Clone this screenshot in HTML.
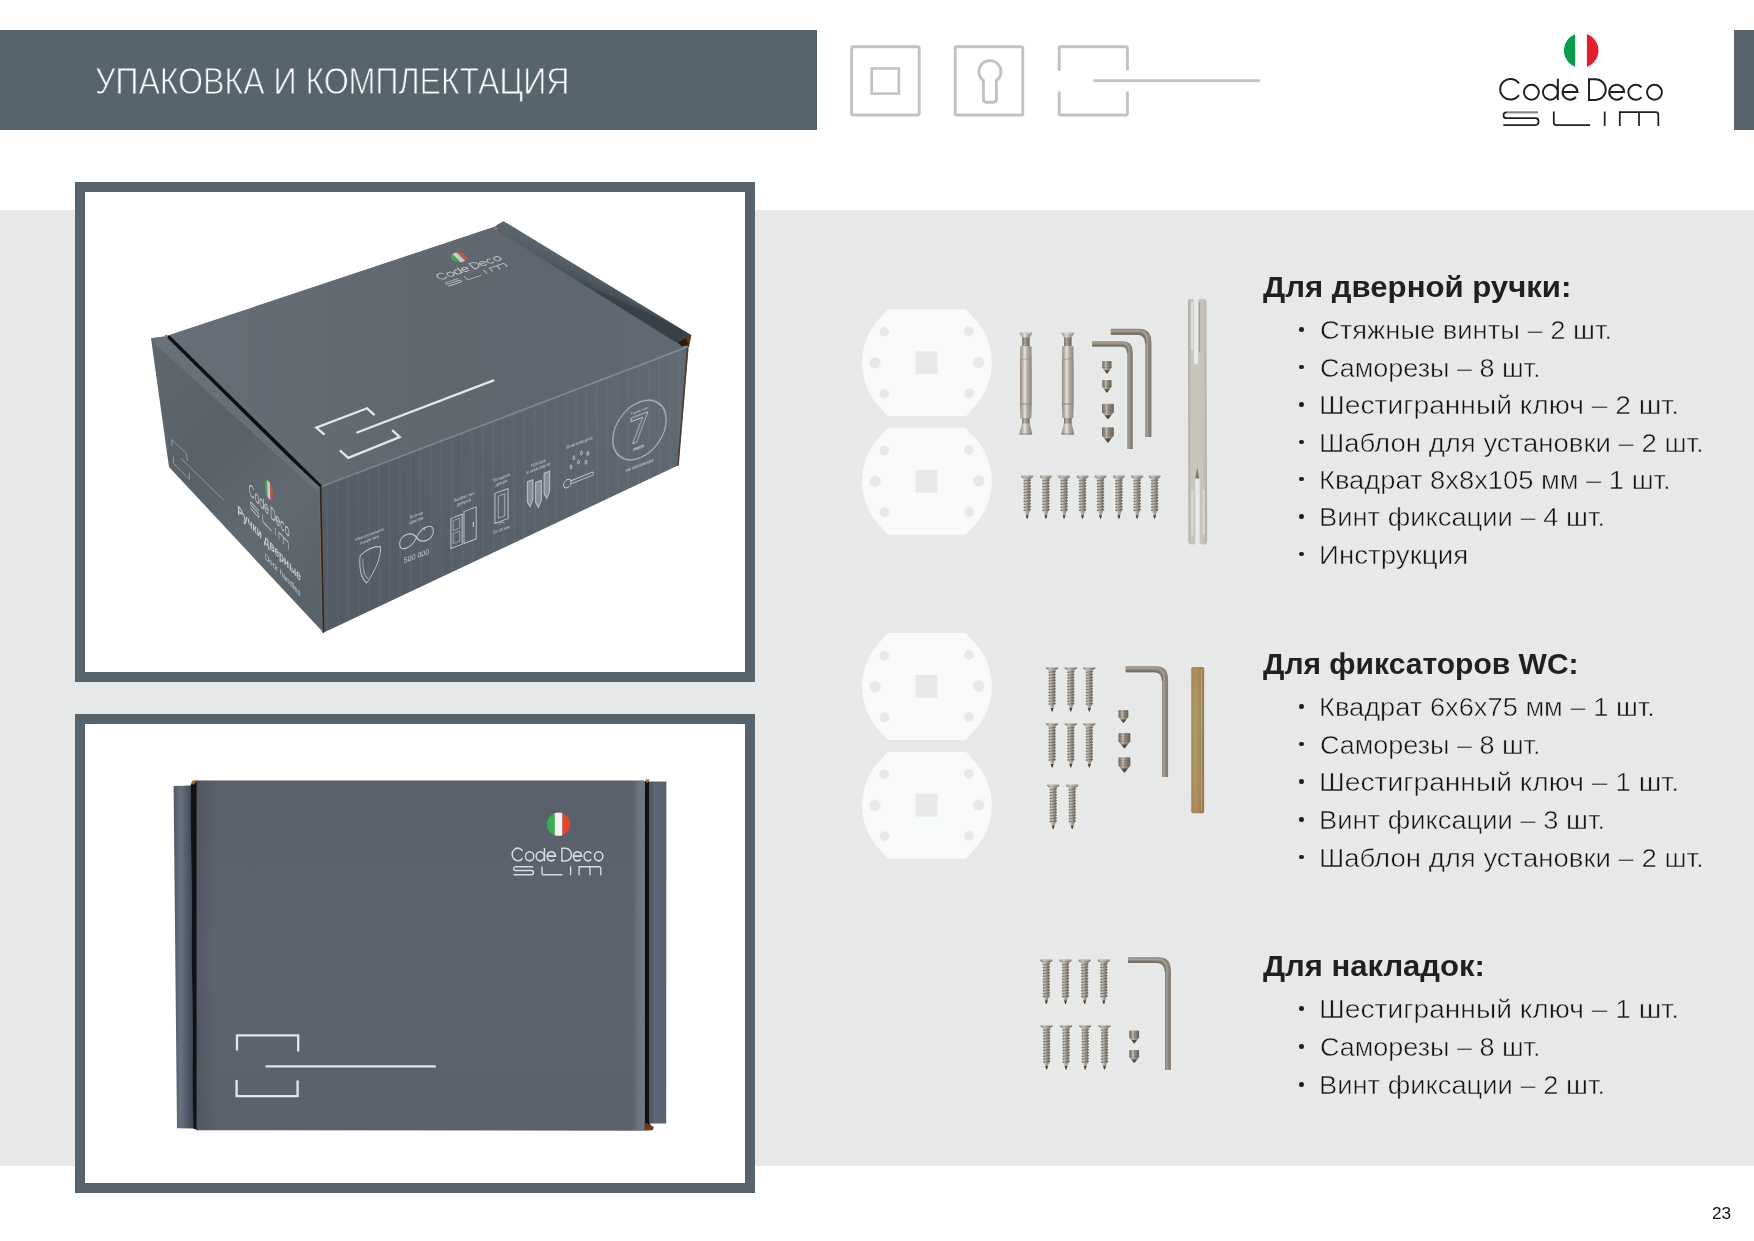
<!DOCTYPE html>
<html lang="ru">
<head>
<meta charset="utf-8">
<title>Упаковка и комплектация</title>
<style>
html,body{margin:0;padding:0;background:#fff;}
body{width:1754px;height:1241px;position:relative;overflow:hidden;font-family:"Liberation Sans",sans-serif;}
.abs{position:absolute;}
#band{left:0;top:210.3px;width:1754px;height:955.3px;background:#e7e9e8;}
#hdr{left:0;top:29.5px;width:817px;height:100px;background:#56646e;}
#rbar{left:1734px;top:29.5px;width:20px;height:100px;background:#56646e;}
#title{left:94.70px;top:59.50px;color:#fff;font-size:36.3px;line-height:44px;white-space:nowrap;transform-origin:0 50%;transform:scaleX(0.8835);-webkit-text-stroke:0.9px #56646e;will-change:transform;}
.frame{box-sizing:border-box;border:10.3px solid #56646e;background:#fff;}
#f1{left:75.2px;top:181.5px;width:679.8px;height:500.1px;}
#f2{left:75.2px;top:713.8px;width:679.8px;height:479.5px;}
.h{font-weight:bold;font-size:30.0px;line-height:36px;color:#231f20;white-space:nowrap;transform-origin:0 50%;will-change:transform;}
.li{font-size:25.9px;line-height:34px;color:#151213;white-space:nowrap;transform-origin:0 50%;-webkit-text-stroke:0.5px #e7e9e8;margin-top:0.5px;will-change:transform;}
.b{width:4.6px;height:4.6px;border-radius:50%;background:#231f20;left:1299.3px;margin-top:-3.3px;}
#pn{left:1711.70px;top:1202.04px;font-size:17.2px;line-height:22px;color:#111;white-space:nowrap;transform-origin:0 50%;transform:scaleX(0.9968);will-change:transform;}
svg{position:absolute;left:0;top:0;}
</style>
</head>
<body>
<div id="band" class="abs"></div>
<div id="hdr" class="abs"></div>
<div id="rbar" class="abs"></div>
<div id="title" class="abs">УПАКОВКА И КОМПЛЕКТАЦИЯ</div>
<div id="f1" class="abs frame"></div>
<div id="f2" class="abs frame"></div>

<!-- GRAPHICS -->
<svg id="gfx" width="1754" height="1241" viewBox="0 0 1754 1241">
<defs>
<g id="cdtxt" fill="none">
<path d="M1518.94,83.34 A10.3 10.3 0 1 0 1518.94,95.16"/>
<circle cx="1531.4" cy="92.25" r="7.45"/>
<circle cx="1550.4" cy="92.25" r="7.45"/><path d="M1557.85,78.7 V100.1"/>
<path d="M1562.60,91.95 H1577.50 A7.45 7.45 0 1 0 1575.92,96.84"/>
<path d="M1589,79.2 H1595.4 A10.35 10.35 0 0 1 1595.4,99.9 H1589 Z"/>
<path d="M1609.25,91.95 H1624.15 A7.45 7.45 0 1 0 1622.57,96.84"/>
<path d="M1641.51,87.46 A7.45 7.45 0 1 0 1641.51,97.04"/>
<circle cx="1654.5" cy="92.25" r="7.45"/>
</g>
<g id="slimtxt" fill="none">
<path d="M1538,112.3 H1506.5 Q1503.5,112.3 1503.5,115.2 Q1503.5,118.2 1506.5,118.2 H1535.3 Q1538.6,118.2 1538.6,121.6 Q1538.6,125.1 1535.3,125.1 H1503.3"/>
<path d="M1553.8,111.6 V122.6 Q1553.8,125.1 1556.3,125.1 H1590"/>
<path d="M1604.7,111.6 V125.9"/>
<path d="M1619.8,125.9 V112.2 H1655.8 Q1658.3,112.2 1658.3,114.7 V125.9 M1639,112.2 V125.9"/>
</g>
<linearGradient id="b2main" x1="0" y1="0" x2="0" y2="1">
<stop offset="0" stop-color="#59606b"/><stop offset="0.5" stop-color="#5d6470"/><stop offset="1" stop-color="#5a616c"/>
</linearGradient>
<linearGradient id="b2mainx" x1="0" y1="0" x2="1" y2="0">
<stop offset="0" stop-color="#000" stop-opacity="0.10"/><stop offset="0.04" stop-color="#000" stop-opacity="0"/><stop offset="0.975" stop-color="#fff" stop-opacity="0"/><stop offset="1" stop-color="#9fb0c8" stop-opacity="0.28"/>
</linearGradient>
<linearGradient id="b2flapL" x1="0" y1="0" x2="1" y2="0">
<stop offset="0" stop-color="#4f5864"/><stop offset="0.35" stop-color="#68727f"/><stop offset="0.6" stop-color="#566070"/><stop offset="1" stop-color="#3c434e"/>
</linearGradient>
<linearGradient id="b2flapR" x1="0" y1="0" x2="1" y2="0">
<stop offset="0" stop-color="#4b5360"/><stop offset="0.3" stop-color="#5d6674"/><stop offset="1" stop-color="#59616f"/>
</linearGradient>
<clipPath id="flag2c"><circle cx="558.5" cy="824.2" r="11.6"/></clipPath>
<!--B1DEFS-->
<linearGradient id="b1top" gradientUnits="userSpaceOnUse" x1="170" y1="340" x2="690" y2="340">
<stop offset="0" stop-color="#676e77"/><stop offset="0.45" stop-color="#61686f"/><stop offset="0.75" stop-color="#5f666f"/><stop offset="1" stop-color="#626a74"/>
</linearGradient>
<linearGradient id="b1front" gradientUnits="userSpaceOnUse" x1="320" y1="560" x2="690" y2="400">
<stop offset="0" stop-color="#535b65"/><stop offset="0.5" stop-color="#59616b"/><stop offset="1" stop-color="#616973"/>
</linearGradient>
<linearGradient id="b1left" gradientUnits="userSpaceOnUse" x1="150" y1="400" x2="330" y2="560">
<stop offset="0" stop-color="#5d656d"/><stop offset="0.35" stop-color="#586068"/><stop offset="0.7" stop-color="#626a72"/><stop offset="1" stop-color="#5a626a"/>
</linearGradient>
<linearGradient id="b1flap" gradientUnits="userSpaceOnUse" x1="600" y1="272" x2="592" y2="290">
<stop offset="0" stop-color="#5a646d"/><stop offset="0.5" stop-color="#505a63"/><stop offset="0.8" stop-color="#475159"/><stop offset="1" stop-color="#384148"/>
</linearGradient>
<clipPath id="b1frontc"><path d="M320,486.3 L686.5,346.8 L688.3,347.7 L678.4,465.3 L323.3,632.7 Z"/></clipPath>
<!--/B1DEFS-->
<!--HWDEFS-->
<linearGradient id="mtl" x1="0" y1="0" x2="1" y2="0">
<stop offset="0" stop-color="#6f685f"/><stop offset="0.3" stop-color="#c6c0b6"/><stop offset="0.55" stop-color="#a19a90"/><stop offset="1" stop-color="#6c655c"/>
</linearGradient>
<linearGradient id="mtlb" x1="0" y1="0" x2="1" y2="0">
<stop offset="0" stop-color="#8f887e"/><stop offset="0.22" stop-color="#b9b3a9"/><stop offset="0.42" stop-color="#e6e3dd"/><stop offset="0.6" stop-color="#b5afa5"/><stop offset="1" stop-color="#8c857b"/>
</linearGradient>
<linearGradient id="mtld" x1="0" y1="0" x2="1" y2="0">
<stop offset="0" stop-color="#776f66"/><stop offset="0.35" stop-color="#bbb5ab"/><stop offset="0.6" stop-color="#989187"/><stop offset="1" stop-color="#6b645b"/>
</linearGradient>
<linearGradient id="spn" x1="0" y1="0" x2="1" y2="0">
<stop offset="0" stop-color="#aeaaa1"/><stop offset="0.18" stop-color="#c9c6be"/><stop offset="0.8" stop-color="#c6c3bb"/><stop offset="1" stop-color="#b3afa6"/>
</linearGradient>
<linearGradient id="brs" x1="0" y1="0" x2="1" y2="0">
<stop offset="0" stop-color="#9c8456"/><stop offset="0.3" stop-color="#b09a66"/><stop offset="0.62" stop-color="#a18a59"/><stop offset="1" stop-color="#8c754a"/>
</linearGradient>
<linearGradient id="brsy" x1="0" y1="0" x2="0" y2="1">
<stop offset="0" stop-color="#b07a4a" stop-opacity="0.35"/><stop offset="0.3" stop-color="#a8a060" stop-opacity="0.25"/><stop offset="0.55" stop-color="#b8a070" stop-opacity="0.0"/><stop offset="1" stop-color="#a8703c" stop-opacity="0.3"/>
</linearGradient>
<path id="plate" d="M-39.0,-53.5 H39.0 L44.61,-47.0 A64.8 64.8 0 0 1 44.61,47.0 L39.0,53.5 H-39.0 L-44.61,47.0 A64.8 64.8 0 0 1 -44.61,-47.0 Z"/>
<g id="pholes" fill="#e7e9e8"><circle cx="-42.6" cy="-30.8" r="4.9"/><circle cx="42" cy="-31.4" r="4.9"/><circle cx="-51.8" cy="0.2" r="5.7"/><circle cx="51.7" cy="-0.3" r="5.7"/><circle cx="-42.4" cy="31" r="4.9"/><circle cx="42.2" cy="30.6" r="4.9"/><rect x="-11.4" y="-11.4" width="22.2" height="22.8"/></g>
<g id="ws"><path d="M-2.50,3.30 L2.50,3.30 L2.50,3.30 L4.00,4.63 L2.50,6.25 L2.50,6.25 L4.00,7.58 L2.50,9.20 L2.50,9.20 L4.00,10.53 L2.50,12.15 L2.50,12.15 L4.00,13.48 L2.50,15.10 L2.50,15.10 L4.00,16.43 L2.50,18.05 L2.50,18.05 L4.00,19.38 L2.50,21.00 L2.50,21.00 L4.00,22.33 L2.50,23.95 L2.50,23.95 L4.00,25.28 L2.50,26.90 L2.50,26.90 L4.00,28.23 L2.50,29.85 L2.50,29.85 L4.00,31.18 L2.50,32.80 L2.50,32.80 L4.00,34.13 L2.50,35.75 L2.25,35.75 L0.35,43.30 L-0.35,43.30 L-2.25,35.75 L-2.50,35.75 L-4.00,34.72 L-2.50,33.39 L-2.50,32.80 L-4.00,31.77 L-2.50,30.44 L-2.50,29.85 L-4.00,28.82 L-2.50,27.49 L-2.50,26.90 L-4.00,25.87 L-2.50,24.54 L-2.50,23.95 L-4.00,22.92 L-2.50,21.59 L-2.50,21.00 L-4.00,19.97 L-2.50,18.64 L-2.50,18.05 L-4.00,17.02 L-2.50,15.69 L-2.50,15.10 L-4.00,14.07 L-2.50,12.74 L-2.50,12.15 L-4.00,11.12 L-2.50,9.79 L-2.50,9.20 L-4.00,8.17 L-2.50,6.84 L-2.50,6.25 L-4.00,5.22 L-2.50,3.89 Z" fill="url(#mtl)"/><path d="M-3.40,5.51 L3.50,4.33" stroke="#5f5850" stroke-opacity="0.7" stroke-width="0.8" fill="none"/><path d="M-3.40,8.46 L3.50,7.28" stroke="#5f5850" stroke-opacity="0.7" stroke-width="0.8" fill="none"/><path d="M-3.40,11.41 L3.50,10.23" stroke="#5f5850" stroke-opacity="0.7" stroke-width="0.8" fill="none"/><path d="M-3.40,14.36 L3.50,13.18" stroke="#5f5850" stroke-opacity="0.7" stroke-width="0.8" fill="none"/><path d="M-3.40,17.31 L3.50,16.13" stroke="#5f5850" stroke-opacity="0.7" stroke-width="0.8" fill="none"/><path d="M-3.40,20.26 L3.50,19.08" stroke="#5f5850" stroke-opacity="0.7" stroke-width="0.8" fill="none"/><path d="M-3.40,23.21 L3.50,22.03" stroke="#5f5850" stroke-opacity="0.7" stroke-width="0.8" fill="none"/><path d="M-3.40,26.16 L3.50,24.98" stroke="#5f5850" stroke-opacity="0.7" stroke-width="0.8" fill="none"/><path d="M-3.40,29.11 L3.50,27.93" stroke="#5f5850" stroke-opacity="0.7" stroke-width="0.8" fill="none"/><path d="M-3.40,32.06 L3.50,30.88" stroke="#5f5850" stroke-opacity="0.7" stroke-width="0.8" fill="none"/><path d="M-3.40,35.01 L3.50,33.83" stroke="#5f5850" stroke-opacity="0.7" stroke-width="0.8" fill="none"/><path d="M-1.50,39.70 L1.50,39.70 L0.3,43.3 L-0.3,43.3 Z" fill="#4a453f"/><path d="M-6.0,0.9 Q-6.0,0 -4.8,0 H4.8 Q6.0,0 6.0,0.9 L5.7,1.6 L2.7,3.5999999999999996 H-2.7 L-5.7,1.6 Z" fill="url(#mtl)"/><path d="M-5.2,0.5 H5.2" stroke="#cfcac1" stroke-width="0.9" fill="none"/><path d="M-5.5,1.7 L-2.5,3.3 M5.5,1.7 L2.5,3.3" stroke="#6f685f" stroke-opacity="0.6" stroke-width="0.6" fill="none"/></g>
<g id="ws2"><path d="M-2.50,3.30 L2.50,3.30 L2.50,3.30 L3.90,4.60 L2.50,6.20 L2.50,6.20 L3.90,7.50 L2.50,9.10 L2.50,9.10 L3.90,10.40 L2.50,12.00 L2.50,12.00 L3.90,13.30 L2.50,14.90 L2.50,14.90 L3.90,16.21 L2.50,17.80 L2.50,17.80 L3.90,19.11 L2.50,20.70 L2.50,20.70 L3.90,22.00 L2.50,23.60 L2.50,23.60 L3.90,24.90 L2.50,26.50 L2.50,26.50 L3.90,27.80 L2.50,29.40 L2.50,29.40 L3.90,30.70 L2.50,32.30 L2.50,32.30 L3.90,33.60 L2.50,35.20 L2.50,35.20 L3.90,36.50 L2.50,38.10 L2.25,38.10 L0.35,44.60 L-0.35,44.60 L-2.25,38.10 L-2.50,38.10 L-3.90,37.08 L-2.50,35.78 L-2.50,35.20 L-3.90,34.18 L-2.50,32.88 L-2.50,32.30 L-3.90,31.28 L-2.50,29.98 L-2.50,29.40 L-3.90,28.38 L-2.50,27.08 L-2.50,26.50 L-3.90,25.48 L-2.50,24.18 L-2.50,23.60 L-3.90,22.59 L-2.50,21.28 L-2.50,20.70 L-3.90,19.69 L-2.50,18.38 L-2.50,17.80 L-3.90,16.79 L-2.50,15.48 L-2.50,14.90 L-3.90,13.88 L-2.50,12.58 L-2.50,12.00 L-3.90,10.98 L-2.50,9.68 L-2.50,9.10 L-3.90,8.08 L-2.50,6.78 L-2.50,6.20 L-3.90,5.18 L-2.50,3.88 Z" fill="url(#mtl)"/><path d="M-3.30,5.47 L3.40,4.31" stroke="#5f5850" stroke-opacity="0.7" stroke-width="0.8" fill="none"/><path d="M-3.30,8.38 L3.40,7.21" stroke="#5f5850" stroke-opacity="0.7" stroke-width="0.8" fill="none"/><path d="M-3.30,11.27 L3.40,10.12" stroke="#5f5850" stroke-opacity="0.7" stroke-width="0.8" fill="none"/><path d="M-3.30,14.18 L3.40,13.02" stroke="#5f5850" stroke-opacity="0.7" stroke-width="0.8" fill="none"/><path d="M-3.30,17.07 L3.40,15.92" stroke="#5f5850" stroke-opacity="0.7" stroke-width="0.8" fill="none"/><path d="M-3.30,19.98 L3.40,18.82" stroke="#5f5850" stroke-opacity="0.7" stroke-width="0.8" fill="none"/><path d="M-3.30,22.88 L3.40,21.71" stroke="#5f5850" stroke-opacity="0.7" stroke-width="0.8" fill="none"/><path d="M-3.30,25.77 L3.40,24.61" stroke="#5f5850" stroke-opacity="0.7" stroke-width="0.8" fill="none"/><path d="M-3.30,28.67 L3.40,27.51" stroke="#5f5850" stroke-opacity="0.7" stroke-width="0.8" fill="none"/><path d="M-3.30,31.57 L3.40,30.41" stroke="#5f5850" stroke-opacity="0.7" stroke-width="0.8" fill="none"/><path d="M-3.30,34.47 L3.40,33.31" stroke="#5f5850" stroke-opacity="0.7" stroke-width="0.8" fill="none"/><path d="M-3.30,37.37 L3.40,36.21" stroke="#5f5850" stroke-opacity="0.7" stroke-width="0.8" fill="none"/><path d="M-1.50,41.00 L1.50,41.00 L0.3,44.6 L-0.3,44.6 Z" fill="#4a453f"/><path d="M-6.15,0.9 Q-6.15,0 -4.95,0 H4.95 Q6.15,0 6.15,0.9 L5.8500000000000005,1.6 L2.7,3.5999999999999996 H-2.7 L-5.8500000000000005,1.6 Z" fill="url(#mtl)"/><path d="M-5.3500000000000005,0.5 H5.3500000000000005" stroke="#cfcac1" stroke-width="0.9" fill="none"/><path d="M-5.65,1.7 L-2.5,3.3 M5.65,1.7 L2.5,3.3" stroke="#6f685f" stroke-opacity="0.6" stroke-width="0.6" fill="none"/></g>
<g id="ss"><path d="M-3.8,0 H3.8 Q4.6,0 4.6,0.8 V6.6 L0.5,12.6 H-0.5 L-4.6,6.6 V0.8 Q-4.6,0 -3.8,0 Z" fill="url(#mtld)"/><path d="M-4.6,1.60 H4.6" stroke="#5e5850" stroke-opacity="0.55" stroke-width="0.7"/><path d="M-4.6,3.30 H4.6" stroke="#5e5850" stroke-opacity="0.55" stroke-width="0.7"/><path d="M-4.6,5.00 H4.6" stroke="#5e5850" stroke-opacity="0.55" stroke-width="0.7"/><path d="M-4.6,6.70 H4.6" stroke="#5e5850" stroke-opacity="0.55" stroke-width="0.7"/><path d="M-2.53,9.30 L2.53,9.30 L0.4,12.6 H-0.4 Z" fill="#3f3a35" fill-opacity="0.85"/><path d="M-1.15,0.6 V6.6" stroke="#d5d0c7" stroke-opacity="0.7" stroke-width="1.1"/></g>
<g id="ssb"><path d="M-5.1000000000000005,0 H5.1000000000000005 Q5.9,0 5.9,0.8 V8.2 L0.5,15.2 H-0.5 L-5.9,8.2 V0.8 Q-5.9,0 -5.1000000000000005,0 Z" fill="url(#mtld)"/><path d="M-5.9,1.60 H5.9" stroke="#5e5850" stroke-opacity="0.55" stroke-width="0.7"/><path d="M-5.9,3.30 H5.9" stroke="#5e5850" stroke-opacity="0.55" stroke-width="0.7"/><path d="M-5.9,5.00 H5.9" stroke="#5e5850" stroke-opacity="0.55" stroke-width="0.7"/><path d="M-5.9,6.70 H5.9" stroke="#5e5850" stroke-opacity="0.55" stroke-width="0.7"/><path d="M-5.9,8.40 H5.9" stroke="#5e5850" stroke-opacity="0.55" stroke-width="0.7"/><path d="M-3.25,11.35 L3.25,11.35 L0.4,15.2 H-0.4 Z" fill="#3f3a35" fill-opacity="0.85"/><path d="M-1.48,0.6 V8.2" stroke="#d5d0c7" stroke-opacity="0.7" stroke-width="1.1"/></g>
<g id="ssc"><path d="M-4.1000000000000005,0 H4.1000000000000005 Q4.9,0 4.9,0.8 V7.0 L0.5,12.8 H-0.5 L-4.9,7.0 V0.8 Q-4.9,0 -4.1000000000000005,0 Z" fill="url(#mtld)"/><path d="M-4.9,1.60 H4.9" stroke="#5e5850" stroke-opacity="0.55" stroke-width="0.7"/><path d="M-4.9,3.30 H4.9" stroke="#5e5850" stroke-opacity="0.55" stroke-width="0.7"/><path d="M-4.9,5.00 H4.9" stroke="#5e5850" stroke-opacity="0.55" stroke-width="0.7"/><path d="M-4.9,6.70 H4.9" stroke="#5e5850" stroke-opacity="0.55" stroke-width="0.7"/><path d="M-2.70,9.61 L2.70,9.61 L0.4,12.8 H-0.4 Z" fill="#3f3a35" fill-opacity="0.85"/><path d="M-1.23,0.6 V7.0" stroke="#d5d0c7" stroke-opacity="0.7" stroke-width="1.1"/></g>
<g id="tb"><path d="M-6.4,0.7 Q-6.4,0 -5.4,0 H5.4 Q6.4,0 6.4,0.7 L4,4.9 H-4 Z" fill="url(#mtlb)"/><path d="M-5.6,0.5 H5.6" stroke="#d9d5cd" stroke-width="0.9"/><rect x="-3.7" y="4.7" width="7.4" height="9.2" fill="url(#mtld)"/><path d="M-3.7,5.8 H3.7" stroke="#5e5850" stroke-opacity="0.5" stroke-width="0.6"/><path d="M-3.7,7.5 H3.7" stroke="#5e5850" stroke-opacity="0.5" stroke-width="0.6"/><path d="M-3.7,9.2 H3.7" stroke="#5e5850" stroke-opacity="0.5" stroke-width="0.6"/><path d="M-3.7,10.9 H3.7" stroke="#5e5850" stroke-opacity="0.5" stroke-width="0.6"/><path d="M-3.7,12.6 H3.7" stroke="#5e5850" stroke-opacity="0.5" stroke-width="0.6"/><path d="M-5,13.6 H5 Q5.6,13.6 5.6,14.4 L5.9,40 L5.9,70 L5.4,85.6 H-5.4 L-5.9,70 L-5.9,40 L-5.6,14.4 Q-5.6,13.6 -5,13.6 Z" fill="url(#mtlb)"/><path d="M-5.6,27.4 L5.7,25.6" stroke="#8a847a" stroke-opacity="0.7" stroke-width="0.7" fill="none"/><path d="M-5.6,71.4 H5.6" stroke="#7f8896" stroke-opacity="0.8" stroke-width="1.2" fill="none"/><rect x="-3.8" y="85.4" width="7.6" height="6" fill="url(#mtld)"/><path d="M-3.9,91 H3.9 L6.3,100.6 Q6.4,102.2 5,102.2 H-5 Q-6.4,102.2 -6.3,100.6 Z" fill="url(#mtlb)"/><path d="M-5.8,101.4 H5.8" stroke="#7a736a" stroke-opacity="0.7" stroke-width="1"/></g>
<!--/HWDEFS-->
</defs>
<g fill="none" stroke="#bec3c7" stroke-width="2.9">
<rect x="851.6" y="46.8" width="67.6" height="68.2" rx="1.5"/>
<rect x="871.7" y="68.5" width="27.1" height="25.1" stroke-width="2.6"/>
<rect x="955.2" y="46.8" width="67.6" height="68.2" rx="1.5"/>
<path d="M983.4,80.5 A11 11 0 1 1 996.4,80.5 L996.4,99.3 Q996.4,102.2 993.6,102.2 L986.2,102.2 Q983.4,102.2 983.4,99.3 Z"/>
<path d="M1059.2,71.1 V48.3 Q1059.2,46.8 1060.7,46.8 H1125.9 Q1127.4,46.8 1127.4,48.3 V70.6"/>
<path d="M1059.2,91.5 V113.5 Q1059.2,115 1060.7,115 H1125.9 Q1127.4,115 1127.4,113.5 V91.5"/>
<path d="M1093.3,80.6 H1260"/>
</g>
<use href="#cdtxt" stroke="#231f20" stroke-width="1.95"/>
<use href="#slimtxt" stroke="#231f20" stroke-width="1.75"/>
<path d="M1538,112.3 H1506.5" stroke="#fff" stroke-opacity="0.45" stroke-width="1.7" fill="none"/>
<clipPath id="flagc"><circle cx="1581.2" cy="50.5" r="17.3"/></clipPath>
<g clip-path="url(#flagc)"><rect x="1563" y="33" width="12.2" height="36" fill="#0a9c4b"/><rect x="1586.9" y="33" width="13" height="36" fill="#e21f2f"/></g>

<!--BOX1-->
<g id="box1">
<path d="M167.7,335.6 L496.5,226 L678.5,343.6 L686.5,346.8 L320,486.6 Z" fill="url(#b1top)"/>
<path d="M496.3,225.2 L503.6,221.2 L691.2,335.1 L688.4,347 L677.7,343.6 L496,229.8 Z" fill="url(#b1flap)"/>
<path d="M691.4,334.6 L689,347.2 L685.5,345.5 L678.5,343.2 L684,338.2 Z" fill="#5a3a22"/>
<path d="M678,342.2 L686,338.5 L688,344.5 L681.5,346.6 Z" fill="#2a1a10"/>
<path d="M494.4,228.6 L497,226.6 L498,229 L495.6,230.6 Z" fill="#a87a4a"/>
<path d="M320,486.3 L686.5,346.8 L688.3,347.7 L678.4,465.3 L323.3,632.7 Z" fill="url(#b1front)"/>
<g clip-path="url(#b1frontc)"><path d="M326,300 L328,700" stroke="#fff" stroke-opacity="0.03" stroke-width="2.4"/><path d="M336.4,300 L338.4,700" stroke="#fff" stroke-opacity="0.03" stroke-width="2.4"/><path d="M346.79999999999995,300 L348.79999999999995,700" stroke="#fff" stroke-opacity="0.03" stroke-width="2.4"/><path d="M357.19999999999993,300 L359.19999999999993,700" stroke="#fff" stroke-opacity="0.03" stroke-width="2.4"/><path d="M367.5999999999999,300 L369.5999999999999,700" stroke="#fff" stroke-opacity="0.03" stroke-width="2.4"/><path d="M377.9999999999999,300 L379.9999999999999,700" stroke="#fff" stroke-opacity="0.03" stroke-width="2.4"/><path d="M388.39999999999986,300 L390.39999999999986,700" stroke="#fff" stroke-opacity="0.03" stroke-width="2.4"/><path d="M398.79999999999984,300 L400.79999999999984,700" stroke="#fff" stroke-opacity="0.03" stroke-width="2.4"/><path d="M409.1999999999998,300 L411.1999999999998,700" stroke="#fff" stroke-opacity="0.03" stroke-width="2.4"/><path d="M419.5999999999998,300 L421.5999999999998,700" stroke="#fff" stroke-opacity="0.03" stroke-width="2.4"/><path d="M429.9999999999998,300 L431.9999999999998,700" stroke="#fff" stroke-opacity="0.03" stroke-width="2.4"/><path d="M440.39999999999975,300 L442.39999999999975,700" stroke="#fff" stroke-opacity="0.03" stroke-width="2.4"/><path d="M450.7999999999997,300 L452.7999999999997,700" stroke="#fff" stroke-opacity="0.03" stroke-width="2.4"/><path d="M461.1999999999997,300 L463.1999999999997,700" stroke="#fff" stroke-opacity="0.03" stroke-width="2.4"/><path d="M471.5999999999997,300 L473.5999999999997,700" stroke="#fff" stroke-opacity="0.03" stroke-width="2.4"/><path d="M481.99999999999966,300 L483.99999999999966,700" stroke="#fff" stroke-opacity="0.03" stroke-width="2.4"/><path d="M492.39999999999964,300 L494.39999999999964,700" stroke="#fff" stroke-opacity="0.03" stroke-width="2.4"/><path d="M502.7999999999996,300 L504.7999999999996,700" stroke="#fff" stroke-opacity="0.03" stroke-width="2.4"/><path d="M513.1999999999996,300 L515.1999999999996,700" stroke="#fff" stroke-opacity="0.03" stroke-width="2.4"/><path d="M523.5999999999997,300 L525.5999999999997,700" stroke="#fff" stroke-opacity="0.03" stroke-width="2.4"/><path d="M533.9999999999998,300 L535.9999999999998,700" stroke="#fff" stroke-opacity="0.03" stroke-width="2.4"/><path d="M544.3999999999999,300 L546.3999999999999,700" stroke="#fff" stroke-opacity="0.03" stroke-width="2.4"/><path d="M554.8,300 L556.8,700" stroke="#fff" stroke-opacity="0.03" stroke-width="2.4"/><path d="M565.2,300 L567.2,700" stroke="#fff" stroke-opacity="0.03" stroke-width="2.4"/><path d="M575.6000000000001,300 L577.6000000000001,700" stroke="#fff" stroke-opacity="0.03" stroke-width="2.4"/><path d="M586.0000000000002,300 L588.0000000000002,700" stroke="#fff" stroke-opacity="0.03" stroke-width="2.4"/><path d="M596.4000000000003,300 L598.4000000000003,700" stroke="#fff" stroke-opacity="0.03" stroke-width="2.4"/><path d="M606.8000000000004,300 L608.8000000000004,700" stroke="#fff" stroke-opacity="0.03" stroke-width="2.4"/><path d="M617.2000000000005,300 L619.2000000000005,700" stroke="#fff" stroke-opacity="0.03" stroke-width="2.4"/><path d="M627.6000000000006,300 L629.6000000000006,700" stroke="#fff" stroke-opacity="0.03" stroke-width="2.4"/><path d="M638.0000000000007,300 L640.0000000000007,700" stroke="#fff" stroke-opacity="0.03" stroke-width="2.4"/><path d="M648.4000000000008,300 L650.4000000000008,700" stroke="#fff" stroke-opacity="0.03" stroke-width="2.4"/><path d="M658.8000000000009,300 L660.8000000000009,700" stroke="#fff" stroke-opacity="0.03" stroke-width="2.4"/><path d="M669.200000000001,300 L671.200000000001,700" stroke="#fff" stroke-opacity="0.03" stroke-width="2.4"/><path d="M679.600000000001,300 L681.600000000001,700" stroke="#fff" stroke-opacity="0.03" stroke-width="2.4"/></g>
<path d="M320.4,487.2 L686.4,347.7" stroke="#8b949f" stroke-opacity="0.75" stroke-width="1.3" fill="none"/>
<path d="M688.6,347.2 L678.8,465.4 L677.2,466 L686.9,348 Z" fill="#4a3a30"/>
<path d="M151,338.2 L166.2,336.2 L320.6,486.4 L323.5,632.7 L169,467 Z" fill="url(#b1left)"/>
<path d="M151,338.2 L166.2,336.2 L320.6,486.4 L318.2,492.6 L156.5,345.5 Z" fill="#6d757e" fill-opacity="0.75"/>
<path d="M166,336.4 L169.6,335.4 L322,485.4 L320.4,487.6 L290,459 Z" fill="#0d0f12"/>
<path d="M164.8,335.2 L167.4,334.6 L168,337.4 L165.6,338 Z" fill="#a9702f"/>
<path d="M319.6,486.6 L321.4,486 L324.2,632.4 L322.6,633 Z" fill="#2b241f"/>
<path d="M318.6,487.4 L319.8,486.6 L322.8,632.9 L321.8,632 Z" fill="#8a6a48" fill-opacity="0.7"/>
<g fill="none" stroke="#e4e7ea" stroke-width="2.3" stroke-linejoin="miter"><path d="M324.5,434.6 L316.3,427.7 L367.1,408.3 L374.6,415.2"/><path d="M356.4,432.7 L494.2,380.1"/><path d="M392.2,430.2 L399.7,437.1 L348.3,457.8 L339.9,450.3"/></g>
<!--B1PRINT-->
<g transform="matrix(0.3795,-0.1264,0.2580,0.2555,440.5,280.3) translate(-1499.4,-100.2)" opacity="0.72"><g clip-path="url(#flagc)"><rect x="1563" y="33" width="12.2" height="36" fill="#3fb555"/><rect x="1575.2" y="33" width="11.7" height="36" fill="#f3f3f1"/><rect x="1586.9" y="33" width="13" height="36" fill="#e8513a"/></g><use href="#cdtxt" stroke="#e3e6ea" stroke-width="2.9"/><use href="#slimtxt" stroke="#e3e6ea" stroke-width="2.6"/></g>
<g transform="matrix(0.2453,0.2634,0.0104,0.5200,249.25,494.3) translate(-1499.4,-100.2)" opacity="0.72"><g clip-path="url(#flagc)"><rect x="1563" y="33" width="12.2" height="36" fill="#3fb555"/><rect x="1575.2" y="33" width="11.7" height="36" fill="#f3f3f1"/><rect x="1586.9" y="33" width="13" height="36" fill="#e8513a"/></g><use href="#cdtxt" stroke="#e3e6ea" stroke-width="3"/><use href="#slimtxt" stroke="#e3e6ea" stroke-width="2.6"/></g>
<g transform="matrix(0.6815,0.7318,0.02,1,237.5,513.7)" fill="#e3e6ea" opacity="0.8" font-family="Liberation Sans, sans-serif"><text x="0" y="0" font-size="13.2" font-weight="bold" textLength="93" lengthAdjust="spacingAndGlyphs">Ручки дверные</text><text x="40" y="15.5" font-size="8.5" textLength="52" lengthAdjust="spacingAndGlyphs">Door handles</text></g>
<g fill="none" stroke="#aab1b9" stroke-opacity="0.7" stroke-width="1"><path d="M172,446 L171.8,439.6 L186.5,453.6 L187.4,461"/><path d="M173.2,456.6 L173.6,463.6 L189.6,479.4 L189.2,472.4"/><path d="M181,458.5 L223.8,500.2"/></g>
<g fill="none" stroke="#e3e6ea" stroke-width="1" opacity="0.78">
<g transform="matrix(0.9346,-0.3557,0,1.0,369.5,565)"><path d="M-10,-13 Q1,-19 12,-14 Q12,2 -3,17 Q-12,6 -10,-13 Z"/><path d="M-7,-9 Q-8,5 -2,13" stroke-opacity="0.7"/><text x="0" y="-29.0" font-size="4.6" text-anchor="middle" fill="#e3e6ea" stroke="none" font-family="Liberation Sans, sans-serif">Многослойное</text><text x="0" y="-23.8" font-size="4.6" text-anchor="middle" fill="#e3e6ea" stroke="none" font-family="Liberation Sans, sans-serif">покрытие</text></g>
<g transform="matrix(0.9346,-0.3557,0,1.0,416.5,537.5)"><path d="M0,0 C-5,-9 -18,-9 -18,0 C-18,9 -5,9 0,0 C5,-9 18,-9 18,0 C18,9 5,9 0,0" stroke-width="1.2"/><path d="M6,-6 l3,-1 l-1,3" stroke-width="0.8"/><text x="0" y="-21.0" font-size="4.6" text-anchor="middle" fill="#e3e6ea" stroke="none" font-family="Liberation Sans, sans-serif">Кол-во</text><text x="0" y="-15.8" font-size="4.6" text-anchor="middle" fill="#e3e6ea" stroke="none" font-family="Liberation Sans, sans-serif">циклов</text><text x="0" y="21" font-size="7.5" text-anchor="middle" fill="#e3e6ea" stroke="none" font-family="Liberation Sans, sans-serif">500 000</text></g>
<g transform="matrix(0.9346,-0.3557,0,1.0,464,527.5)"><rect x="-14" y="-14" width="12" height="30"/><rect x="0" y="-16" width="13" height="32"/><rect x="-11.5" y="-11" width="7" height="10" stroke-width="0.6"/><rect x="-11.5" y="2" width="7" height="10" stroke-width="0.6"/><path d="M10,-2 v5" stroke-width="1.2"/><text x="0" y="-29.0" font-size="4.6" text-anchor="middle" fill="#e3e6ea" stroke="none" font-family="Liberation Sans, sans-serif">Любой тип</text><text x="0" y="-23.8" font-size="4.6" text-anchor="middle" fill="#e3e6ea" stroke="none" font-family="Liberation Sans, sans-serif">дверей</text></g>
<g transform="matrix(0.9346,-0.3557,0,1.0,501.5,506)"><rect x="-7" y="-15" width="14" height="30"/><rect x="-3.5" y="-11" width="7" height="22" stroke-width="0.7"/><path d="M-3,18 l3,-2 l3,2" stroke-width="0.7"/><text x="0" y="-27.0" font-size="4.6" text-anchor="middle" fill="#e3e6ea" stroke="none" font-family="Liberation Sans, sans-serif">Толщина</text><text x="0" y="-21.8" font-size="4.6" text-anchor="middle" fill="#e3e6ea" stroke="none" font-family="Liberation Sans, sans-serif">двери</text><text x="0" y="25.0" font-size="4.2" text-anchor="middle" fill="#e3e6ea" stroke="none" font-family="Liberation Sans, sans-serif">35-50 мм</text></g>
<g transform="matrix(0.9346,-0.3557,0,1.0,538.5,490.5)"><path d="M-12,-13 h6 v20 l-3,6 l-3,-6 Z M-3,-9 h6 v20 l-3,6 l-3,-6 Z M6,-15 h6 v20 l-3,6 l-3,-6 Z" fill="#e3e6ea" fill-opacity="0.45"/><text x="0" y="-26.0" font-size="4.6" text-anchor="middle" fill="#e3e6ea" stroke="none" font-family="Liberation Sans, sans-serif">Крепеж</text><text x="0" y="-20.8" font-size="4.6" text-anchor="middle" fill="#e3e6ea" stroke="none" font-family="Liberation Sans, sans-serif">в комплекте</text></g>
<g transform="matrix(0.9346,-0.3557,0,1.0,579.5,468)"><path d="M-6,-14.6 q2.2,3 0,4.4 q-2.2,-1.4 0,-4.4 Z" stroke-width="0.8"/><path d="M2,-16.6 q2.2,3 0,4.4 q-2.2,-1.4 0,-4.4 Z" stroke-width="0.8"/><path d="M9,-13.6 q2.2,3 0,4.4 q-2.2,-1.4 0,-4.4 Z" stroke-width="0.8"/><path d="M-9,-6.6 q2.2,3 0,4.4 q-2.2,-1.4 0,-4.4 Z" stroke-width="0.8"/><path d="M-1,-8.6 q2.2,3 0,4.4 q-2.2,-1.4 0,-4.4 Z" stroke-width="0.8"/><path d="M7,-5.6 q2.2,3 0,4.4 q-2.2,-1.4 0,-4.4 Z" stroke-width="0.8"/><circle cx="-13" cy="11" r="4"/><path d="M-9,9.5 L14,9 M-9,12.5 L14,12.4 M14,9 q2,1.7 0,3.4" stroke-width="0.9"/><text x="0" y="-24.0" font-size="4.6" text-anchor="middle" fill="#e3e6ea" stroke="none" font-family="Liberation Sans, sans-serif">Влагозащита</text></g>
<g transform="matrix(0.9346,-0.3557,0,1.0,639.5,430)"><ellipse cx="0" cy="0" rx="28.5" ry="28" stroke-width="1.1"/><path d="M-9,-15 H9 L-3,11 H-7.5 L3.5,-11.5 H-9 Z" stroke-width="1"/><text x="0" y="-18.0" font-size="4.4" text-anchor="middle" fill="#e3e6ea" stroke="none" font-family="Liberation Sans, sans-serif">Гарантия</text><text x="-1" y="19" font-size="6" font-style="italic" font-weight="bold" text-anchor="middle" fill="#e3e6ea" stroke="none" font-family="Liberation Sans, sans-serif">лет</text><text x="0" y="37.0" font-size="5" text-anchor="middle" fill="#e3e6ea" stroke="none" font-family="Liberation Sans, sans-serif">на механизм</text></g>
</g>
<!--/B1PRINT-->
</g>
<!--/BOX1-->
<g id="box2">
<path d="M173.6,786 L190.8,785.6 L193.4,1128.6 L177,1128.2 Z" fill="url(#b2flapL)"/>
<path d="M190.6,785.4 L192.5,781.3 L197.2,780.6 L197.2,1130 L193.2,1128.6 Z" fill="#101216"/>
<path d="M191.2,782.6 L193.6,780.2 L197,780.4 L193.5,785 Z" fill="#b06a30"/>
<path d="M196.6,780.6 L644,780.4 L644,1130.8 L196.6,1130.2 Z" fill="url(#b2main)"/>
<path d="M196.6,780.6 L644,780.4 L644,1130.8 L196.6,1130.2 Z" fill="url(#b2mainx)"/>
<path d="M644.4,781 L649.7,781.8 L649.7,1123.5 L653,1128.8 L644.4,1130.6 Z" fill="#101216"/>
<path d="M644.5,1122 L653.8,1127 L652.6,1130.2 L644.5,1130.6 Z" fill="#6a3a1c"/>
<path d="M645.5,779.6 L648.8,779.2 L649.6,781.6 L646.5,783 Z" fill="#a8683a"/>
<path d="M649.6,781.6 L666.4,781.6 L666.2,1123.4 L649.6,1123.4 Z" fill="url(#b2flapR)"/>
<g fill="none" stroke="#e4e6e9" stroke-width="2.3">
<path d="M237,1050.6 V1035.3 H298.2 V1051.4"/>
<path d="M265.6,1066.4 H435.8"/>
<path d="M236.6,1080 V1096.1 H297.6 V1080.6"/>
</g>
<g clip-path="url(#flag2c)"><rect x="546" y="812" width="8.7" height="25" fill="#35b04a"/><rect x="554.7" y="812" width="7.8" height="25" fill="#f4f4f2"/><rect x="562.5" y="812" width="9" height="25" fill="#e8452c"/></g>
<g transform="translate(511.7,861.2) scale(0.5605,0.615) translate(-1499.4,-100.2)"><use href="#cdtxt" stroke="#d9dce0" stroke-width="2.6"/></g>
<g transform="translate(513.3,866.4) scale(0.5625,0.615) translate(-1502.8,-111.6)"><use href="#slimtxt" stroke="#d9dce0" stroke-width="2.4"/></g>
</g>

<!--HW1-->
<g id="hw1">
<use href="#plate" x="926.9" y="362.65" fill="#f8f9fb"/><use href="#pholes" x="926.9" y="362.65"/>
<use href="#plate" x="926.9" y="481.25" fill="#f8f9fb"/><use href="#pholes" x="926.9" y="481.25"/>
<use href="#tb" x="1025.9" y="332.6"/>
<use href="#tb" x="1067.8" y="332.6"/>
<path d="M1092.2,343.8 H1122.5 Q1130.0,343.8 1130.0,351.3 V448.9" fill="none" stroke="#8b847a" stroke-width="5.3" stroke-linejoin="round"/><path d="M1092.2,342.846 H1122.5 Q1129.046,342.846 1129.046,351.3 V448.9" fill="none" stroke="#a59f95" stroke-width="1.38"/><path d="M1092.2,345.708 H1120.592 Q1127.7104,345.708 1127.7104,353.208" fill="none" stroke="#6a635b" stroke-opacity="0.75" stroke-width="1.48"/><path d="M1131.908,351.3 V448.9" fill="none" stroke="#857e75" stroke-opacity="0.9" stroke-width="1.48"/>
<path d="M1110.8,331.8 H1138.8 Q1148.3,331.8 1148.3,341.3 V436.9" fill="none" stroke="#8b847a" stroke-width="6.0" stroke-linejoin="round"/><path d="M1110.8,330.72 H1138.8 Q1147.22,330.72 1147.22,341.3 V436.9" fill="none" stroke="#a59f95" stroke-width="1.56"/><path d="M1110.8,333.96000000000004 H1136.6399999999999 Q1145.7079999999999,333.96000000000004 1145.7079999999999,343.46000000000004" fill="none" stroke="#6a635b" stroke-opacity="0.75" stroke-width="1.68"/><path d="M1150.46,341.3 V436.9" fill="none" stroke="#857e75" stroke-opacity="0.9" stroke-width="1.68"/>
<use href="#ss" x="1106.9" y="360.9"/><use href="#ss" x="1106.9" y="379.9"/><use href="#ssb" x="1107.9" y="403.8"/><use href="#ssb" x="1107.9" y="427.2"/>
<use href="#ws" x="1027.2" y="475.5"/><use href="#ws" x="1045.9" y="475.5"/><use href="#ws" x="1064.1" y="475.5"/><use href="#ws" x="1082.5" y="475.5"/><use href="#ws" x="1100.5" y="475.5"/><use href="#ws" x="1118.9" y="475.5"/><use href="#ws" x="1137.1" y="475.5"/><use href="#ws" x="1154.6" y="475.5"/>
<path d="M1188,301.2 Q1188,298.9 1190.4,298.9 L1192.4,298.9 Q1193.9,298.9 1193.9,300.6 V363.8 H1198.1 V300.6 Q1198.1,298.9 1199.8,298.9 L1203.6,298.9 Q1206.4,298.9 1206.4,302.2 L1207.2,540.8 Q1207.2,544.4 1203.6,544.4 H1201.4 Q1199.7,544.4 1199.7,542.6 V478.4 H1195.3 V542.6 Q1195.3,544.4 1193.8,544.4 H1191.6 Q1188.4,544.4 1188.4,541 Z" fill="url(#spn)"/>
<path d="M1197.2,467.7 L1199.2,478.4 H1195.2 Z" fill="#7d7870"/>
<path d="M1192.2,302 V350" stroke="#e6e4df" stroke-width="2.2" stroke-opacity="0.8"/>
<path d="M1199.6,302 V352" stroke="#98948b" stroke-width="1.2" stroke-opacity="0.8"/>
<path d="M1192.2,490 V535 M1203.6,490 V535" stroke="#e3e1db" stroke-width="2" stroke-opacity="0.7"/>
</g>
<!--/HW1-->
<!--HW2-->
<g id="hw2">
<use href="#plate" x="926.9" y="686.4" fill="#f8f9fb"/><use href="#pholes" x="926.9" y="686.4"/>
<use href="#plate" x="926.9" y="805.2" fill="#f8f9fb"/><use href="#pholes" x="926.9" y="805.2"/>
<use href="#ws2" x="1052.1" y="667.0"/><use href="#ws2" x="1070.8" y="667.0"/><use href="#ws2" x="1089.3" y="667.0"/><use href="#ws2" x="1052.1" y="722.9"/><use href="#ws2" x="1070.8" y="722.9"/><use href="#ws2" x="1089.3" y="722.9"/><use href="#ws2" x="1053.2" y="784.5"/><use href="#ws2" x="1072.2" y="784.5"/>
<use href="#ssc" x="1123.4" y="709.9"/><use href="#ssb" x="1124.4" y="733.1"/><use href="#ssb" x="1124.4" y="757.2"/>
<path d="M1125.7,669.2 H1155.6 Q1165.1,669.2 1165.1,678.7 V776.9" fill="none" stroke="#8b847a" stroke-width="5.9" stroke-linejoin="round"/><path d="M1125.7,668.138 H1155.6 Q1164.038,668.138 1164.038,678.7 V776.9" fill="none" stroke="#a59f95" stroke-width="1.53"/><path d="M1125.7,671.3240000000001 H1153.4759999999999 Q1162.5511999999999,671.3240000000001 1162.5511999999999,680.8240000000001" fill="none" stroke="#6a635b" stroke-opacity="0.75" stroke-width="1.65"/><path d="M1167.224,678.7 V776.9" fill="none" stroke="#857e75" stroke-opacity="0.9" stroke-width="1.65"/>
<rect x="1191.3" y="667" width="12.8" height="146.2" rx="1.8" fill="url(#brs)"/><rect x="1191.3" y="667" width="12.8" height="146.2" rx="1.8" fill="url(#brsy)"/>
<path d="M1201.6,669 V811" stroke="#d8c9a0" stroke-opacity="0.55" stroke-width="1"/>
</g>
<!--/HW2-->
<!--HW3-->
<g id="hw3">
<use href="#ws2" x="1046.3" y="959.5"/><use href="#ws2" x="1065.5" y="959.5"/><use href="#ws2" x="1084.7" y="959.5"/><use href="#ws2" x="1103.8" y="959.5"/><use href="#ws2" x="1046.6" y="1024.9"/><use href="#ws2" x="1066" y="1024.9"/><use href="#ws2" x="1085.2" y="1024.9"/><use href="#ws2" x="1104.5" y="1024.9"/>
<use href="#ssc" x="1134.2" y="1030.4"/><use href="#ssc" x="1134.2" y="1049.9"/>
<path d="M1128.1,960.2 H1158.4 Q1167.9,960.2 1167.9,969.7 V1069.7" fill="none" stroke="#8b847a" stroke-width="5.8" stroke-linejoin="round"/><path d="M1128.1,959.1560000000001 H1158.4 Q1166.856,959.1560000000001 1166.856,969.7 V1069.7" fill="none" stroke="#a59f95" stroke-width="1.51"/><path d="M1128.1,962.288 H1156.3120000000001 Q1165.3944000000001,962.288 1165.3944000000001,971.788" fill="none" stroke="#6a635b" stroke-opacity="0.75" stroke-width="1.62"/><path d="M1169.988,969.7 V1069.7" fill="none" stroke="#857e75" stroke-opacity="0.9" stroke-width="1.62"/>
</g>
<!--/HW3-->
</svg>

<!-- TEXT -->
<!--TEXT-->
<div id="ah" class="abs h" style="left:1263.40px;top:268.50px;transform:scaleX(1.0380)">Для дверной ручки:</div>
<div id="ai0" class="abs li" style="left:1320.14px;top:312.53px;transform:scaleX(1.0552)">Стяжные винты – 2 шт.</div>
<div class="abs b" style="top:330.33px"></div>
<div id="ai1" class="abs li" style="left:1320.16px;top:350.03px;transform:scaleX(1.0416)">Саморезы – 8 шт.</div>
<div class="abs b" style="top:367.83px"></div>
<div id="ai2" class="abs li" style="left:1319.02px;top:387.53px;transform:scaleX(1.0879)">Шестигранный ключ – 2 шт.</div>
<div class="abs b" style="top:405.33px"></div>
<div id="ai3" class="abs li" style="left:1319.07px;top:425.03px;transform:scaleX(1.0639)">Шаблон для установки – 2 шт.</div>
<div class="abs b" style="top:442.83px"></div>
<div id="ai4" class="abs li" style="left:1319.09px;top:462.03px;transform:scaleX(1.0548)">Квадрат 8х8х105 мм – 1 шт.</div>
<div class="abs b" style="top:479.83px"></div>
<div id="ai5" class="abs li" style="left:1319.09px;top:499.53px;transform:scaleX(1.0559)">Винт фиксации – 4 шт.</div>
<div class="abs b" style="top:517.33px"></div>
<div id="ai6" class="abs li" style="left:1319.06px;top:537.03px;transform:scaleX(1.0698)">Инструкция</div>
<div class="abs b" style="top:554.83px"></div>
<div id="bh" class="abs h" style="left:1263.40px;top:646.11px;transform:scaleX(1.0008)">Для фиксаторов WC:</div>
<div id="bi0" class="abs li" style="left:1319.09px;top:689.93px;transform:scaleX(1.0529)">Квадрат 6х6х75 мм – 1 шт.</div>
<div class="abs b" style="top:707.73px"></div>
<div id="bi1" class="abs li" style="left:1320.16px;top:727.13px;transform:scaleX(1.0416)">Саморезы – 8 шт.</div>
<div class="abs b" style="top:744.93px"></div>
<div id="bi2" class="abs li" style="left:1319.02px;top:764.63px;transform:scaleX(1.0879)">Шестигранный ключ – 1 шт.</div>
<div class="abs b" style="top:782.43px"></div>
<div id="bi3" class="abs li" style="left:1319.09px;top:802.73px;transform:scaleX(1.0559)">Винт фиксации – 3 шт.</div>
<div class="abs b" style="top:820.53px"></div>
<div id="bi4" class="abs li" style="left:1319.07px;top:840.23px;transform:scaleX(1.0639)">Шаблон для установки – 2 шт.</div>
<div class="abs b" style="top:858.03px"></div>
<div id="ch" class="abs h" style="left:1263.40px;top:947.90px;transform:scaleX(1.0340)">Для накладок:</div>
<div id="ci0" class="abs li" style="left:1319.02px;top:991.93px;transform:scaleX(1.0879)">Шестигранный ключ – 1 шт.</div>
<div class="abs b" style="top:1009.73px"></div>
<div id="ci1" class="abs li" style="left:1320.16px;top:1029.43px;transform:scaleX(1.0416)">Саморезы – 8 шт.</div>
<div class="abs b" style="top:1047.23px"></div>
<div id="ci2" class="abs li" style="left:1319.09px;top:1067.53px;transform:scaleX(1.0559)">Винт фиксации – 2 шт.</div>
<div class="abs b" style="top:1085.33px"></div>
<!--/TEXT-->
<div id="pn" class="abs">23</div>
</body>
</html>
